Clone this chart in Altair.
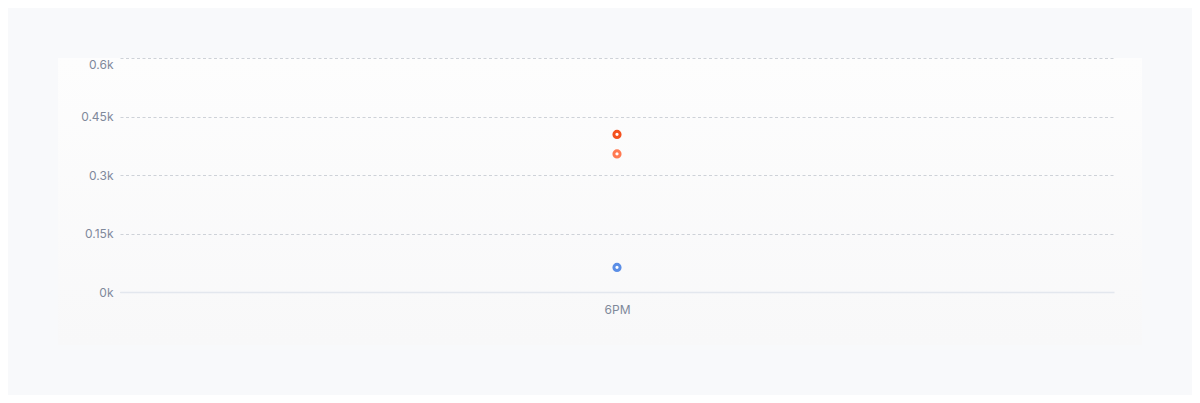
import altair as alt
import pandas as pd

# one time slot, three series
hours = ["6PM", "6PM", "6PM"]
series = ["Peak", "Average", "Low"]
values = [404, 354, 63]
colors = ["#f4511e", "#ff7a52", "#5b8ee6"]
y_ticks = [0, 150, 300, 450, 600]

data = pd.DataFrame({"Hour": hours, "Series": series, "Value": values})

card = (
    alt.Chart(pd.DataFrame({"a": [0]}))
    .mark_rect(
        clip=False,
        color=alt.Gradient(
            gradient="linear",
            x1=0, y1=0, x2=0, y2=1,
            stops=[
                alt.GradientStop(color="#fdfdfd", offset=0),
                alt.GradientStop(color="#f8f8f9", offset=1),
            ],
        ),
    )
    .encode(x=alt.value(-62), x2=alt.value(1022), y=alt.value(0), y2=alt.value(287))
)

points = (
    alt.Chart(data)
    .mark_point(filled=False, fill="white", fillOpacity=1, size=38, strokeWidth=3, opacity=1)
    .encode(
        x=alt.X(
            "Hour:N",
            title=None,
            scale=alt.Scale(type="point", padding=0.5),
            axis=alt.Axis(
                labelAngle=0,
                ticks=False,
                domain=True,
                domainColor="#e3e7ee",
                domainWidth=1.5,
                labelPadding=12,
                grid=False,
                zindex=1,
            ),
        ),
        y=alt.Y(
            "Value:Q",
            title=None,
            scale=alt.Scale(domain=[0, 600], nice=False),
            axis=alt.Axis(
                values=y_ticks,
                labelExpr="datum.value / 1000 + 'k'",
                labelOffset={"condition": {"test": "datum.value == 600", "value": 6}, "value": 0},
                domain=False,
                ticks=False,
                labelPadding=7,
                grid=True,
                gridDash=[3, 2.5],
                gridColor="#ced2d8",
                gridWidth=1,
                zindex=1,
            ),
        ),
        color=alt.Color(
            "Series:N",
            scale=alt.Scale(domain=series, range=colors),
            legend=None,
        ),
        tooltip=["Hour", "Series", "Value"],
    )
)

chart = (
    alt.layer(card, points)
    .properties(
        width=994,
        height=234,
        background="#f8f9fb",
        padding={"left": 112, "top": 50, "right": 78, "bottom": 103},
        autosize=alt.AutoSizeParams(type="none"),
    )
    .configure_view(stroke=None)
    .configure_axis(
        labelFont="Inter",
        labelFontSize=12,
        labelColor="#7f899b",
    )
)

chart.save("out.html", embed_options={"renderer": "svg", "actions": False})
